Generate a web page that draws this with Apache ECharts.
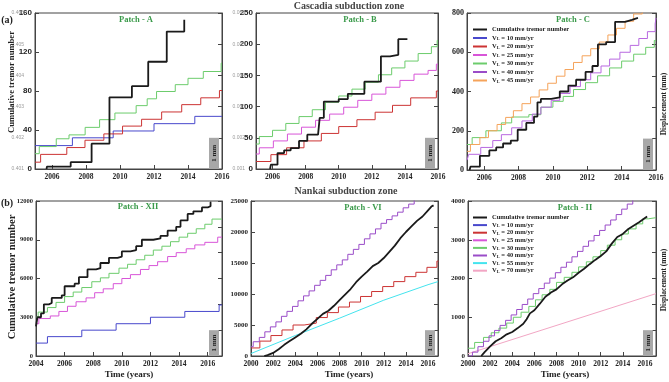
<!DOCTYPE html>
<html><head><meta charset="utf-8">
<script src="https://cdn.jsdelivr.net/npm/echarts@6/dist/echarts.min.js"></script>
<style>html,body{margin:0;padding:0;background:#fff}#c{width:669px;height:382px}</style>
</head><body><div id="c"></div>
<script>
// ---------- DATA ----------
// Patch A (Cascadia)
const aBlack = [[2005.68,0],[2005.7,2.5],[2007.1,7],[2008.33,26],[2009.38,73.5],[2010.7,85],[2011.66,110],[2012.75,141],[2013.78,153],[2013.82,153]];
const aBlue = [[2005,24],[2007.2,32],[2009.6,39],[2012.0,46.5],[2014.4,54],[2016,54]];
const aRed = [[2005,7],[2005.33,15],[2006.87,22],[2007.94,29.5],[2009.05,36],[2010.15,44],[2011.27,51],[2012.45,58.5],[2013.63,66],[2014.75,73],[2015.85,80.5],[2016,80.5]];
const aGreen = [[2005,15.7],[2005.25,23],[2006.25,31],[2007.0,35],[2007.95,42.7],[2008.8,50.6],[2009.7,57.4],[2010.95,65],[2011.6,72],[2012.15,79.5],[2013.25,86.5],[2014.0,93],[2014.9,100],[2015.95,108.5],[2016,108.5]];
// Patch B
const bBlack = [[2005.85,0],[2005.9,7],[2006.3,25.5],[2006.7,30],[2007.1,33.5],[2007.6,45],[2008.1,55],[2008.75,57],[2008.85,82],[2009.1,108],[2010.0,112],[2010.55,120.5],[2011.55,140],[2012.55,180.5],[2013.1,183],[2013.6,208],[2014.15,208]];
const bGreen = [[2005,40],[2005.2,52],[2006.0,62],[2006.8,73],[2007.6,84],[2008.4,95],[2009.2,107],[2010.0,117],[2010.8,128],[2011.6,139],[2012.4,151],[2013.2,162],[2014.0,173],[2014.8,185],[2015.6,196],[2015.95,206],[2016,206]];
const bMagenta = [[2005,24],[2005.2,34],[2006.05,45],[2006.9,56],[2007.75,67],[2008.6,78],[2009.45,88],[2010.3,99],[2011.15,110],[2012.0,120],[2012.85,131],[2013.7,142],[2014.55,152],[2015.4,158],[2015.9,168],[2016,168]];
const bRed = [[2005,12],[2005.9,23],[2006.85,34],[2007.9,45],[2008.95,57],[2010.0,68],[2011.1,79],[2012.2,91],[2013.25,102],[2014.35,114],[2015.9,125],[2016,125]];
// Patch C
const cBlack = [[2005.15,0],[2005.2,17],[2005.75,72],[2006.3,100],[2006.7,115],[2007.1,135],[2007.55,150],[2007.95,205],[2008.45,240],[2008.9,272],[2009.1,345],[2009.3,362],[2009.9,370],[2010.4,400],[2010.9,430],[2011.35,460],[2011.9,500],[2012.3,530],[2012.62,640],[2013.1,652],[2013.62,755],[2014.2,765],[2014.6,775],[2014.95,775]];
const cOrange = [[2005,95],[2005.2,130],[2005.75,165],[2006.25,200],[2006.75,232],[2007.25,268],[2007.7,302],[2008.2,338],[2008.7,372],[2009.2,408],[2009.7,442],[2010.2,478],[2010.7,512],[2011.2,548],[2011.7,582],[2012.2,618],[2012.7,652],[2013.2,688],[2013.7,722],[2014.2,758],[2014.7,795],[2015.2,830]];
const cViolet = [[2005,50],[2005.1,80],[2005.8,115],[2006.5,150],[2007.0,180],[2007.6,215],[2008.2,250],[2008.8,285],[2009.3,320],[2009.9,355],[2010.4,390],[2011.0,425],[2011.6,460],[2012.2,495],[2012.8,530],[2013.3,565],[2013.9,600],[2014.5,635],[2015.0,670],[2015.5,705],[2015.95,745],[2016,775]];
const cGreen = [[2005,130],[2005.3,165],[2006.1,200],[2007.0,240],[2007.6,270],[2008.6,282],[2009.3,320],[2010.0,350],[2010.6,375],[2011.2,410],[2011.9,445],[2012.6,480],[2013.3,520],[2014.0,555],[2014.7,590],[2015.4,625],[2015.9,660],[2016,660]];
// Patch XII (Nankai)
const xiiBlack = [[2004,2300],[2004.1,3000],[2004.35,3300],[2004.55,4000],[2004.9,4100],[2005.1,4500],[2005.8,4700],[2006.0,5400],[2006.7,5600],[2007.0,6100],[2007.6,6700],[2008.2,6800],[2008.5,7200],[2009.1,7600],[2009.7,7700],[2010.0,8100],[2010.6,8200],[2011.0,8500],[2011.4,9000],[2012.2,9100],[2012.7,9300],[2013.2,9700],[2013.8,10000],[2014.1,10500],[2014.6,11000],[2015.0,11200],[2015.6,11500],[2016.0,11600],[2016.2,11900],[2016.25,11900]];
const xiiGreen = [[2004,3000],[2004.15,3400],[2004.8,3750],[2005.4,4150],[2006.0,4600],[2006.6,4950],[2007.2,5300],[2007.9,5750],[2008.5,6050],[2009.1,6400],[2009.8,6800],[2010.4,7100],[2011.0,7450],[2011.6,7800],[2012.2,8200],[2012.8,8500],[2013.4,8850],[2014.0,9200],[2014.6,9500],[2015.2,9850],[2015.8,10200],[2016.3,10600],[2017,10650]];
const xiiMagenta = [[2004,2500],[2004.2,2900],[2005.0,3100],[2005.6,3450],[2006.2,3850],[2006.8,4200],[2007.5,4500],[2008.1,4900],[2008.7,5200],[2009.4,5600],[2010.0,6000],[2010.6,6300],[2011.3,6700],[2011.9,7000],[2012.5,7300],[2013.2,7700],[2013.8,8000],[2014.5,8300],[2015.1,8600],[2015.8,8800],[2016.7,9200],[2017,9200]];
const xiiBlue = [[2004,1000],[2004.8,1500],[2007.2,2000],[2009.6,2500],[2012.0,3000],[2014.4,3450],[2016.8,3950],[2017,3950]];
// Patch VI
const viBlack = [[2001.2,0],[2001.5,150],[2002,500],[2002.5,1100],[2003,1800],[2003.5,2400],[2004,3000],[2004.5,3600],[2005,4300],[2005.5,5200],[2006,6000],[2006.5,6800],[2007,7300],[2007.5,8100],[2008,9000],[2008.5,9900],[2009,10800],[2009.5,11900],[2010,12800],[2010.5,13600],[2011,14500],[2011.5,15000],[2012,15800],[2012.5,16800],[2013,17800],[2013.5,19000],[2014,20000],[2014.5,20900],[2015,21800],[2015.5,22500],[2016,23500],[2016.3,24100],[2016.5,24300]];
const viPurple = [[2000,1500],[2000.2,2300],[2000.75,3000],[2001.25,3900],[2001.75,4700],[2002.25,5500],[2002.75,6400],[2003.25,7200],[2003.75,8000],[2004.25,8900],[2004.75,9700],[2005.25,10500],[2005.75,11400],[2006.25,12200],[2006.75,13000],[2007.25,13900],[2007.75,14700],[2008.25,15500],[2008.75,16400],[2009.25,17200],[2009.75,18000],[2010.25,18900],[2010.75,19700],[2011.25,20500],[2011.75,21400],[2012.25,22000],[2012.75,22600],[2013.25,23200],[2013.75,23900],[2014.25,24500],[2014.75,25200]];
const viRed = [[2000,1300],[2000.8,2400],[2001.8,3300],[2002.8,4200],[2003.8,5000],[2004.8,5300],[2005.9,6200],[2006.9,7000],[2007.9,7900],[2008.9,8700],[2009.9,9600],[2010.9,10400],[2011.9,11200],[2012.9,12000],[2013.9,12800],[2014.9,13500],[2015.9,14300],[2016.8,15300],[2016.95,15300]];
const viCyan = [[2000,400],[2004,3300],[2008,6100],[2012,9000],[2016,11500],[2016.9,12000]];
// Patch II
const iiBlack = [[2001.2,0],[2001.5,100],[2002,250],[2002.5,380],[2003,460],[2003.5,560],[2004,620],[2004.5,720],[2005,830],[2005.3,950],[2005.6,1100],[2006,1180],[2006.5,1350],[2007,1530],[2007.5,1640],[2008,1720],[2008.5,1850],[2009,1950],[2009.5,2030],[2010,2150],[2010.5,2250],[2011,2370],[2011.5,2480],[2012,2580],[2012.5,2700],[2013,2900],[2013.5,3070],[2014,3150],[2014.5,3280],[2015,3370],[2015.5,3460],[2016,3560],[2016.2,3600]];
const iiPurple = [[2000,0],[2000.4,100],[2000.9,240],[2001.4,380],[2001.9,520],[2002.4,660],[2002.9,790],[2003.4,920],[2003.9,1060],[2004.4,1200],[2004.9,1330],[2005.4,1470],[2005.9,1610],[2006.4,1740],[2006.9,1880],[2007.4,2010],[2007.9,2150],[2008.4,2290],[2008.9,2420],[2009.4,2560],[2009.9,2700],[2010.4,2830],[2010.9,2970],[2011.4,3110],[2011.9,3240],[2012.4,3380],[2012.9,3510],[2013.4,3650],[2013.9,3790],[2014.4,3920],[2014.9,4060]];
const iiGreen = [[2000,200],[2000.6,350],[2001.4,480],[2002.1,600],[2002.8,720],[2003.5,850],[2004.1,1000],[2004.8,1130],[2005.5,1280],[2006.1,1450],[2006.7,1580],[2007.4,1720],[2008.0,1900],[2008.7,2030],[2009.4,2160],[2010.0,2300],[2010.7,2430],[2011.3,2560],[2012.0,2720],[2012.6,2860],[2013.3,3000],[2013.9,3150],[2014.5,3280],[2015.2,3410],[2015.8,3540],[2016.3,3570],[2017,3570]];
const iiPink = [[2000,60],[2017,1610]];

// axis settings
const xTicksTop = [2006,2008,2010,2012,2014,2016];
const xTicksXII = [2004,2006,2008,2010,2012,2014,2016];
const xTicksNk = [2000,2002,2004,2006,2008,2010,2012,2014,2016];
const yMaxes = [160,250,800,12000,25000,4000];
const yIntervals = [40,50,200,3000,5000,1000];
const faintBaseA = 0.401, faintBaseB = 0.001;

// ---------- CHART ----------
const SERIF = 'Liberation Serif', SANS = 'Liberation Sans';
const C = {black:'#1a1a1a', blue:'#4848cc', red:'#cc3333', green:'#6ccc6c', magenta:'#d855d8', purple:'#9a4cc8', violet:'#b868e0', orange:'#f5a35a', cyan:'#44e4ee', pink:'#f2a6c4'};
const NB='Cumulative tremor number', V10='V_L = 10 mm/yr', V20='V_L = 20 mm/yr', V25='V_L = 25 mm/yr', V30='V_L = 30 mm/yr', V40='V_L = 40 mm/yr', V45='V_L = 45 mm/yr', V55='V_L = 55 mm/yr', V70='V_L = 70 mm/yr';

const grids = [
  {left:35, top:13, width:187, height:156},
  {left:256, top:13, width:182, height:156},
  {left:467, top:13, width:189, height:157},
  {left:36, top:201, width:186, height:155},
  {left:251, top:201, width:187, height:155},
  {left:468, top:201, width:188, height:155}
];
const xRanges = [[2005,2016],[2005,2016],[2005,2016],[2004,2017],[2000,2016.9],[2000,2017]];
const xTickSets = [xTicksTop,xTicksTop,xTicksTop,xTicksXII,xTicksNk,xTicksNk];
const rightDiv = [5,5,5,6,6,6];
const plain = v => String(v);

const xAxis = grids.map((g,i)=>({
  type:'value', gridIndex:i, min:xRanges[i][0], max:xRanges[i][1],
  axisLine:{show:true, onZero:false, lineStyle:{color:'#444', width:1}},
  axisTick:{show:true, inside:true, length:4, customValues:xTickSets[i], lineStyle:{color:'#444'}},
  axisLabel:{customValues:xTickSets[i], formatter:plain, fontFamily:SERIF, fontWeight:'bold', fontSize:7.5, color:'#222', margin:4},
  splitLine:{show:false}
}));
const yAxis = [];
grids.forEach((g,i)=>{
  yAxis.push({type:'value', gridIndex:i, position:'left', min:0, max:yMaxes[i], interval:yIntervals[i],
    axisLine:{show:true, lineStyle:{color:'#444'}},
    axisTick:{show:true, inside:true, length:4, lineStyle:{color:'#444'}},
    axisLabel:{formatter:plain, fontFamily: i<2?SANS:SERIF, fontWeight:'bold', fontSize: i<3?8:(i===3?6.5:7), color:'#222', margin:3},
    splitLine:{show:false}});
});
grids.forEach((g,i)=>{
  yAxis.push({type:'value', gridIndex:i, position:'right', min:0, max:rightDiv[i], interval:1,
    axisLine:{show:true, lineStyle:{color:'#444'}},
    axisTick:{show:true, inside:true, length:4, lineStyle:{color:'#444'}},
    axisLabel:{show:false}, splitLine:{show:false}});
});
[faintBaseA, faintBaseB].forEach((base,i)=>{
  yAxis.push({type:'value', gridIndex:i, position:'left', min:0, max:5, interval:1,
    axisLine:{show:false}, axisTick:{show:false}, splitLine:{show:false},
    axisLabel:{fontFamily:SANS, fontSize:5, color:'#9a9a9a', margin:11,
      formatter:v=>(base+v*0.001).toFixed(3)}});
});

function S(name,g,data,color,width,step){
  return {type:'line', name, xAxisIndex:g, yAxisIndex:g, data, step: step===false?false:'end',
    symbol:'none', showSymbol:false, lineStyle:{color, width}, itemStyle:{color}, silent:true,
    z: width>1.5?5:3};
}
const series = [
  S(V10,0,aBlue,C.blue,1), S(V20,0,aRed,C.red,1), S(V30,0,aGreen,C.green,1), S(NB,0,aBlack,C.black,1.8),
  S(V30,1,bGreen,C.green,1), S(V25,1,bMagenta,C.magenta,1), S(V20,1,bRed,C.red,1), S(NB,1,bBlack,C.black,1.8),
  S(V30,2,cGreen,C.green,1), S(V40,2,cViolet,C.violet,1), S(V45,2,cOrange,C.orange,1), S(NB,2,cBlack,C.black,1.8),
  S(V10,3,xiiBlue,C.blue,1), S(V25,3,xiiMagenta,C.magenta,1), S(V30,3,xiiGreen,C.green,1), S(NB,3,xiiBlack,C.black,1.8),
  S(V55,4,viCyan,C.cyan,1,false), S(V20,4,viRed,C.red,1), S(V40,4,viPurple,C.purple,1), S(NB,4,viBlack,C.black,1.8,false),
  S(V70,5,iiPink,C.pink,1,false), S(V30,5,iiGreen,C.green,1), S(V40,5,iiPurple,C.purple,1), S(NB,5,iiBlack,C.black,1.8,false)
];

const legTxt = {fontFamily:SERIF, fontWeight:'bold', fontSize:6.5, color:'#222', lineHeight:7,
  rich:{s:{fontFamily:SERIF, fontWeight:'bold', fontSize:4.5, color:'#222', lineHeight:7, verticalAlign:'bottom'}}};
const legFmt = n => n.replace('V_L','V{s|L}');
function LI(name,color){return {name, icon:'rect', itemStyle:{color}};}
const legend = [
  {left:473, top:26, orient:'vertical', itemWidth:14, itemHeight:2, itemGap:1.5, selectedMode:false, padding:0,
   textStyle:legTxt, formatter:legFmt,
   data:[LI(NB,C.black),LI(V10,C.blue),LI(V20,C.red),LI(V25,C.magenta),LI(V30,C.green),LI(V40,C.purple),LI(V45,C.orange)]},
  {left:473, top:214, orient:'vertical', itemWidth:14, itemHeight:2, itemGap:0.6, selectedMode:false, padding:0,
   textStyle:legTxt, formatter:legFmt,
   data:[LI(NB,C.black),LI(V10,C.blue),LI(V20,C.red),LI(V25,C.magenta),LI(V30,C.green),LI(V40,C.purple),LI(V55,C.cyan),LI(V70,C.pink)]}
];

const chart = echarts.init(document.getElementById('c'), null, {renderer:'canvas'});
chart.setOption({
  animation:false, backgroundColor:'#fff',
  grid: grids.map(g=>Object.assign({show:true, borderColor:'#444', borderWidth:1, containLabel:false}, g)),
  xAxis, yAxis, series, legend
});

// ---------- ANNOTATIONS ----------
function T(text,x,y,size,color,rot,family){
  return {type:'text', x, y, rotation:rot||0, z:20,
    style:{text, fill:color||'#222', font:'bold '+size+'px "'+(family||SERIF)+'"', textAlign:'center', textVerticalAlign:'middle', verticalAlign:'middle'}};
}
const PG = '#3a9a4a';
const gfx = [
  T('Cascadia subduction zone',349,6,10,'#444'),
  T('Nankai subduction zone',346,191,10,'#444'),
  T('(a)',7,20,10), T('(b)',7,203,10),
  T('Patch - A',136,20,8.5,PG), T('Patch - B',360,20,8.5,PG), T('Patch - C',573,20,8.5,PG),
  T('Patch - XII',138,207,8.5,PG), T('Patch - VI',363,208,8.5,PG), T('Patch - II',575,208,8.5,PG),
  T('Cumulative tremor number',12,82,8.6,'#222',Math.PI/2),
  T('Cumulative tremor number',12,277,10.5,'#222',Math.PI/2),
  T('Time (years)',129,375,9,'#222'), T('Time (years)',349,375,9,'#222'), T('Time (years)',565,375,9,'#222'),
  T('Displacement (mm)',664,104,7.5,'#222',Math.PI/2),
  T('Displacement (mm)',664,280,7.5,'#222',Math.PI/2)
];
grids.forEach((g,i)=>{
  const xr = chart.convertToPixel({xAxisIndex:i}, xRanges[i][1]);
  const y0 = chart.convertToPixel({yAxisIndex:6+i}, 0);
  const y1 = chart.convertToPixel({yAxisIndex:6+i}, 1);
  gfx.push({type:'rect', z:15, shape:{x:xr-13, y:y1, width:10, height:y0-y1}, style:{fill:'#a8a8a8'}});
  gfx.push(T('1 mm', xr-8, (y0+y1)/2, 7, '#222', Math.PI/2));
});
chart.setOption({graphic: gfx});
</script></body></html>
